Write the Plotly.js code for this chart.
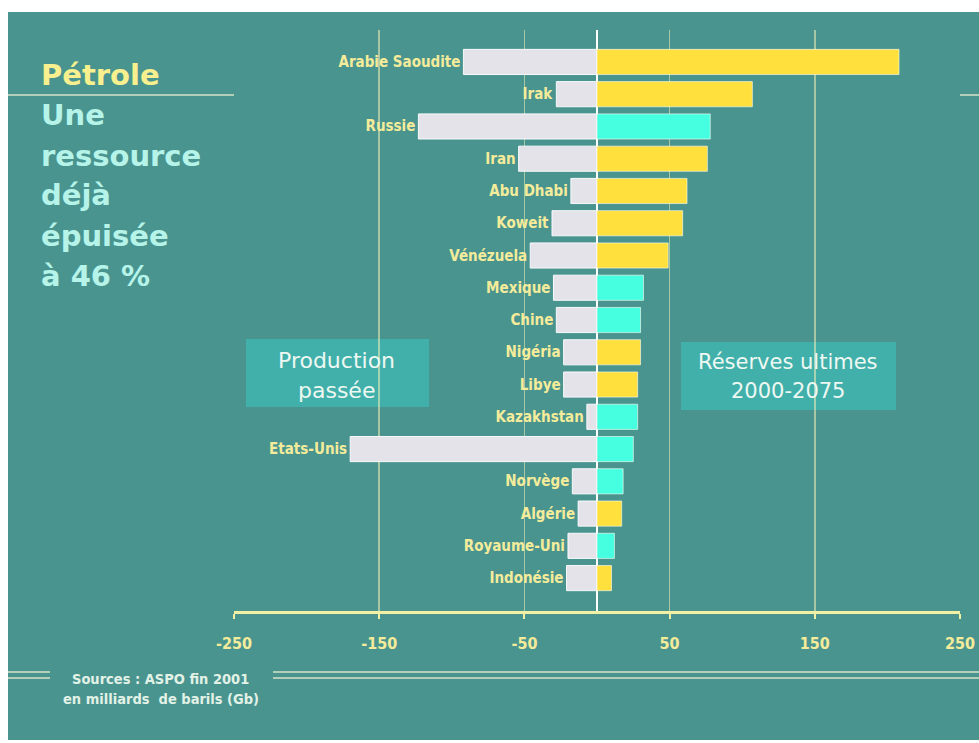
<!DOCTYPE html>
<html>
<head>
<meta charset="utf-8">
<script src="https://cdn.plot.ly/plotly-3.0.1.min.js"></script>
<style>
  html, body { margin: 0; padding: 0; background: #ffffff; }
  #chart { width: 979px; height: 743px; }
</style>
</head>
<body>
<div id="chart"></div>
<script>
// ---- Data (milliards de barils, Gb) ----
const categories = ['Arabie Saoudite', 'Irak', 'Russie', 'Iran', 'Abu Dhabi', 'Koweit', 'Vénézuela',
  'Mexique', 'Chine', 'Nigéria', 'Libye', 'Kazakhstan', 'Etats-Unis', 'Norvège', 'Algérie',
  'Royaume-Uni', 'Indonésie'];
const productionPassee = [-92, -28, -123, -54, -18, -31, -46, -30, -28, -23, -23, -7, -170, -17, -13, -20, -21];
const reservesUltimes = [208, 107, 78, 76, 62, 59, 49, 32, 30, 30, 28, 28, 25, 18, 17, 12, 10];
const membreOPEP = [true, true, false, true, true, true, true, false, false, true, true, false, false, false, true, false, true];
const xTickVals = [-250, -150, -50, 50, 150, 250];
const xTickText = ['-250', '-150', '-50', '50', '150', '250'];

// ---- Styles ----
const W = 979, H = 743;
const px = x => x / W;
const py = y => 1 - y / H;
const TEAL = '#4a9490';
const BOX = '#41b0ab';
const YELLOW = '#ffe03c';
const CYAN = '#46ffe0';
const LABEL = '#f4ec9a';
const GRID = 'rgba(232,234,180,0.6)';
const DECO = '#b4cfb8';
const COND = '"DejaVu Sans Condensed", "DejaVu Sans", sans-serif';
const SANS = '"DejaVu Sans", Verdana, sans-serif';

const traces = [
  {
    type: 'bar', orientation: 'h',
    y: categories, x: productionPassee,
    marker: { color: '#e4e3ea', line: { color: 'rgba(255,255,255,0.9)', width: 1 } },
    text: categories, textposition: 'outside', constraintext: 'none', cliponaxis: false,
    textfont: { family: COND, size: 15, color: LABEL, weight: 'bold' },
    hoverinfo: 'skip', showlegend: false
  },
  {
    type: 'bar', orientation: 'h',
    y: categories, x: reservesUltimes,
    marker: { color: membreOPEP.map(o => o ? YELLOW : CYAN), line: { color: 'rgba(255,255,240,0.6)', width: 1 } },
    hoverinfo: 'skip', showlegend: false
  }
];

function rect(x0, y0, x1, y1, fill, layer) {
  return { type: 'rect', xref: 'paper', yref: 'paper', x0: px(x0), x1: px(x1), y0: py(y1), y1: py(y0),
    fillcolor: fill, line: { width: 0 }, layer: layer || 'below' };
}
function hline(x0, x1, y, color, w) {
  return { type: 'line', xref: 'paper', yref: 'paper', x0: px(x0), x1: px(x1), y0: py(y), y1: py(y),
    line: { color: color, width: w }, layer: 'below' };
}

const shapes = [
  rect(8, 12, 979, 740, TEAL),
  rect(246, 339, 429, 407, BOX),
  rect(681, 342, 896, 410, BOX),
  hline(8, 234, 95, DECO, 2),
  hline(960, 979, 95, DECO, 2),
  hline(8, 50, 672, DECO, 2),
  hline(8, 50, 678, DECO, 2),
  hline(273, 979, 672, DECO, 2),
  hline(273, 979, 678, DECO, 2)
];

function ann(text, x, y, size, color, family, weight, xanchor) {
  return { text: text, xref: 'paper', yref: 'paper', x: px(x), y: py(y), showarrow: false,
    xanchor: xanchor || 'left', yanchor: 'middle',
    font: { family: family, size: size, color: color, weight: weight || 'normal' } };
}
const TITLE2 = '#b6f4ea';
const annotations = [
  ann('Pétrole', 39, 75, 29, '#f8f08e', SANS, 'bold'),
  ann('Une', 39, 115, 29, TITLE2, SANS, 'bold'),
  ann('ressource', 39, 156, 29, TITLE2, SANS, 'bold'),
  ann('déjà', 39, 195, 29, TITLE2, SANS, 'bold'),
  ann('épuisée', 39, 236, 29, TITLE2, SANS, 'bold'),
  ann('à 46 %', 39, 276, 29, TITLE2, SANS, 'bold'),
  ann('Production', 336, 360, 22, '#eef8f2', SANS, 'normal', 'center'),
  ann('passée', 336, 390, 22, '#eef8f2', SANS, 'normal', 'center'),
  ann('Réserves ultimes', 788, 362, 21, '#eef8f2', SANS, 'normal', 'center'),
  ann('2000-2075', 788, 391, 21, '#eef8f2', SANS, 'normal', 'center'),
  ann('Sources : ASPO fin 2001', 160, 679, 14.5, '#e2f2e6', COND, 'bold', 'center'),
  ann('en milliards  de barils (Gb)', 161, 699, 14.5, '#e2f2e6', COND, 'bold', 'center')
];

const layout = {
  width: W, height: H,
  margin: { l: 0, r: 0, t: 0, b: 0 },
  paper_bgcolor: '#ffffff',
  plot_bgcolor: 'rgba(0,0,0,0)',
  barmode: 'overlay',
  bargap: 0.22,
  xaxis: {
    domain: [px(234), px(960)],
    range: [-250, 250],
    tickvals: xTickVals, ticktext: xTickText,
    showgrid: true, gridcolor: GRID, gridwidth: 1.5,
    zeroline: true, zerolinecolor: '#ffffff', zerolinewidth: 2,
    showline: true, linecolor: '#f2f0a4', linewidth: 3,
    ticks: 'outside', ticklen: 5, tickwidth: 2, tickcolor: '#f2f0a4',
    ticklabelstandoff: 11,
    tickfont: { family: COND, size: 16, color: LABEL, weight: 'bold' },
    fixedrange: true
  },
  yaxis: {
    domain: [py(611), py(30)],
    type: 'category',
    categoryorder: 'array', categoryarray: categories,
    range: [17.02, -0.99],
    showticklabels: false, showgrid: false, zeroline: false, showline: false, ticks: '',
    fixedrange: true
  },
  shapes: shapes,
  annotations: annotations,
  showlegend: false,
  hovermode: false
};

Plotly.newPlot('chart', traces, layout, { displayModeBar: false, staticPlot: true });
</script>
</body>
</html>
